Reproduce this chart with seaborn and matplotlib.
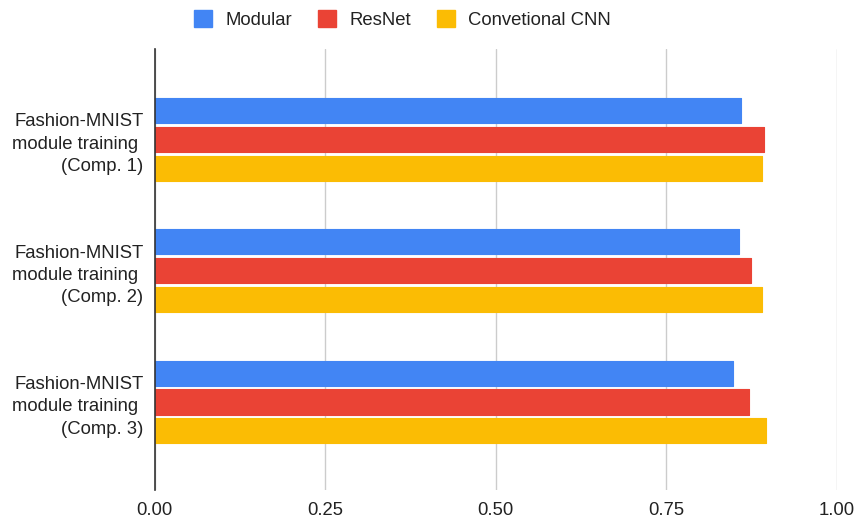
import matplotlib
matplotlib.use("Agg")
import matplotlib.pyplot as plt
from matplotlib.patches import Patch
import seaborn as sns
import pandas as pd

categories = [
    "Fashion-MNIST\nmodule training \n(Comp. 1)",
    "Fashion-MNIST\nmodule training \n(Comp. 2)",
    "Fashion-MNIST\nmodule training \n(Comp. 3)",
]
series = ["Modular", "ResNet", "Convetional CNN"]
modular = [0.860, 0.857, 0.848]
resnet = [0.893, 0.875, 0.871]
cnn = [0.891, 0.891, 0.896]
x_ticks = [0.0, 0.25, 0.5, 0.75, 1.0]
x_tick_labels = ["0.00", "0.25", "0.50", "0.75", "1.00"]
colors = ["#4285F4", "#EA4335", "#FBBC04"]

df = pd.DataFrame({
    "category": categories * 3,
    "model": [series[0]] * 3 + [series[1]] * 3 + [series[2]] * 3,
    "score": modular + resnet + cnn,
})

sns.set_theme(style="white")
plt.rcParams["font.family"] = ["Liberation Sans", "DejaVu Sans"]
FS = 13.3

fig = plt.figure(figsize=(8.56, 5.2), dpi=100)
ax = fig.add_axes([0.1807, 0.0577, 0.7968, 0.8481])

sns.barplot(data=df, y="category", x="score", hue="model", orient="h",
            palette=colors, width=0.66, gap=0.13, ax=ax, legend=False,
            saturation=1, errorbar=None)

for p in ax.patches:
    p.set_edgecolor(p.get_facecolor())
    p.set_linewidth(0.8)
    p.set_joinstyle("round")

ax.set_xlim(0, 1)
ax.set_ylim(2.67, -0.69)
ax.set_xticks(x_ticks)
ax.set_xticklabels(x_tick_labels)
ax.set_xlabel("")
ax.set_ylabel("")
ax.xaxis.grid(True, color="#cccccc", linewidth=1)
ax.set_axisbelow(True)
for s in ["top", "right", "bottom"]:
    ax.spines[s].set_visible(False)
ax.spines["left"].set_color("#333333")
ax.spines["left"].set_linewidth(1.2)
ax.spines["left"].set_zorder(5)
ax.tick_params(axis="both", length=0, labelsize=FS, colors="#222222")
ax.tick_params(axis="y", pad=8)
ax.tick_params(axis="x", pad=9)
for t in ax.get_yticklabels():
    t.set_multialignment("right")
    t.set_linespacing(1.42)

handles = [Patch(facecolor=c, edgecolor=c, label=s) for c, s in zip(colors, series)]
fig.legend(handles=handles, loc="center", bbox_to_anchor=(0.47, 0.962), ncol=3,
           frameon=False, fontsize=FS, handlelength=1.0, handleheight=1.0,
           handletextpad=0.7, columnspacing=1.4, labelcolor="#222222")

fig.savefig("out.png", dpi=100)
